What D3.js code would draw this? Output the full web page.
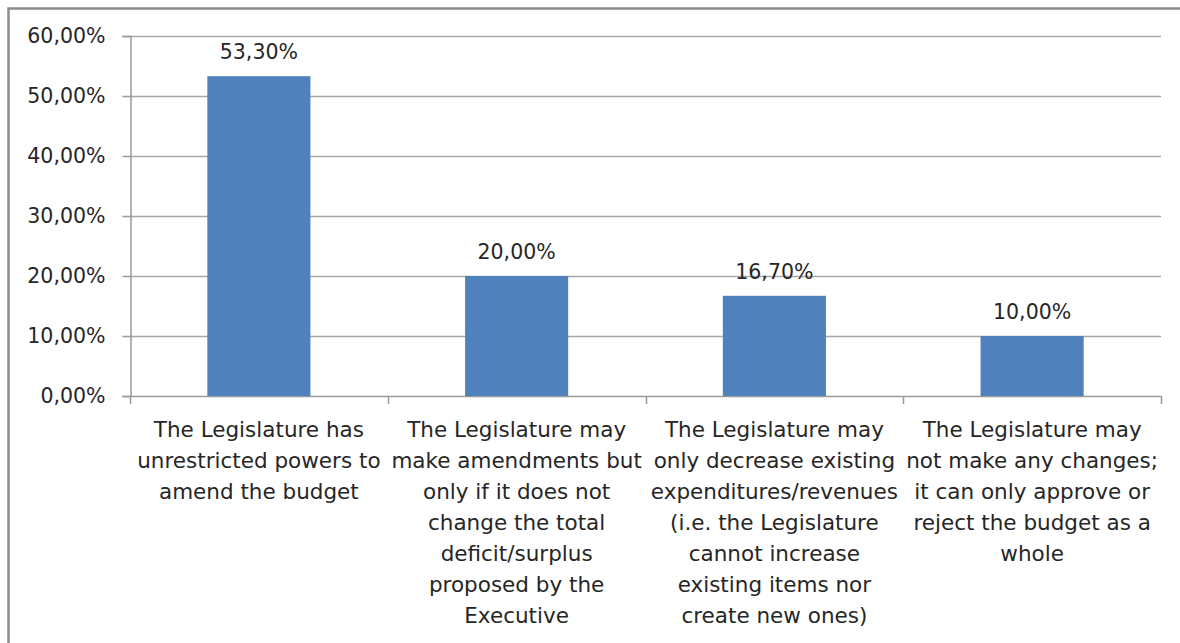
<!DOCTYPE html>
<html>
<head>
<meta charset="utf-8">
<script src="https://cdn.jsdelivr.net/npm/d3@7"></script>
<style>
  html, body { margin: 0; padding: 0; background: #ffffff; }
  svg { display: block; }
  text { font-family: "DejaVu Sans", sans-serif; fill: #262626; }
</style>
</head>
<body>
<svg id="chart" width="1180" height="643"></svg>
<script>
// Category labels, one entry per bar; "\n" marks a line break
const categories = [
  "The Legislature has\nunrestricted powers to\namend the budget",
  "The Legislature may\nmake amendments but\nonly if it does not\nchange the total\ndeficit/surplus\nproposed by the\nExecutive",
  "The Legislature may\nonly decrease existing\nexpenditures/revenues\n(i.e. the Legislature\ncannot increase\nexisting items nor\ncreate new ones)",
  "The Legislature may\nnot make any changes;\nit can only approve or\nreject the budget as a\nwhole"
];
// Share of respondents per category
const values = [0.533, 0.200, 0.167, 0.100];
// Value axis ticks
const yTicks = [0, 0.1, 0.2, 0.3, 0.4, 0.5, 0.6];

const width = 1180, height = 643;
const plot = { left: 130, right: 1161, top: 36, bottom: 396 };

const svg = d3.select("#chart");
const fmt = v => d3.format(".2f")(v * 100).replace(".", ",") + "%";

// Outer chart frame
svg.append("rect")
  .attr("x", 8.5).attr("y", 8.5)
  .attr("width", 1300).attr("height", 800)
  .attr("fill", "#ffffff")
  .attr("stroke", "#8c8c8c")
  .attr("stroke-width", 2.5);

const y = d3.scaleLinear().domain([0, 0.6]).range([plot.bottom, plot.top]);
const x = d3.scaleBand().domain(categories).range([plot.left, plot.right]).padding(0);

// Horizontal gridlines
svg.append("g")
  .selectAll("line")
  .data(yTicks.filter(t => t > 0))
  .join("line")
  .attr("x1", plot.left).attr("x2", plot.right)
  .attr("y1", d => Math.round(y(d)) + 0.5).attr("y2", d => Math.round(y(d)) + 0.5)
  .attr("stroke", "#a6a6a6")
  .attr("stroke-width", 1.5);

// Value axis
const yAxis = d3.axisLeft(y)
  .tickValues(yTicks)
  .tickSize(8)
  .tickPadding(17)
  .tickFormat(fmt);
const gy = svg.append("g")
  .attr("transform", `translate(${plot.left + 0.5},0)`)
  .call(yAxis);
gy.select(".domain").attr("stroke", "#9a9a9a").attr("stroke-width", 1.5);
gy.selectAll(".tick line").attr("stroke", "#9a9a9a").attr("stroke-width", 1.5);
gy.selectAll(".tick text")
  .style("font-family", "'DejaVu Sans', sans-serif")
  .style("font-size", "20.5px")
  .attr("fill", "#262626");

// Category axis: ticks sit on category boundaries
const boundaries = categories.map(c => x(c)).concat([plot.right]);
svg.append("line")
  .attr("x1", plot.left).attr("x2", plot.right)
  .attr("y1", plot.bottom + 0.5).attr("y2", plot.bottom + 0.5)
  .attr("stroke", "#9a9a9a").attr("stroke-width", 1.5);
svg.append("g")
  .selectAll("line")
  .data(boundaries)
  .join("line")
  .attr("x1", d => Math.round(d) + 0.5).attr("x2", d => Math.round(d) + 0.5)
  .attr("y1", plot.bottom).attr("y2", plot.bottom + 8)
  .attr("stroke", "#9a9a9a").attr("stroke-width", 1.5);

// Bars
const barW = x.bandwidth() * 0.4;
svg.append("g")
  .selectAll("rect")
  .data(values)
  .join("rect")
  .attr("x", (d, i) => x(categories[i]) + (x.bandwidth() - barW) / 2)
  .attr("y", d => y(d))
  .attr("width", barW)
  .attr("height", d => y(0) - y(d))
  .attr("fill", "#4f81bd");

// Value labels above bars
svg.append("g")
  .selectAll("text")
  .data(values)
  .join("text")
  .attr("x", (d, i) => x(categories[i]) + x.bandwidth() / 2)
  .attr("y", d => y(d) - 17)
  .attr("text-anchor", "middle")
  .style("font-size", "20.5px")
  .text(d => fmt(d));

// Wrapped category labels
const catG = svg.append("g")
  .selectAll("text")
  .data(categories)
  .join("text")
  .attr("text-anchor", "middle")
  .attr("transform", d => `translate(${x(d) + x.bandwidth() / 2},437)`)
  .style("font-size", "21.5px");
catG.selectAll("tspan")
  .data(d => d.split("\n"))
  .join("tspan")
  .attr("x", 0)
  .attr("y", (d, i) => i * 31)
  .text(d => d);
</script>
</body>
</html>
